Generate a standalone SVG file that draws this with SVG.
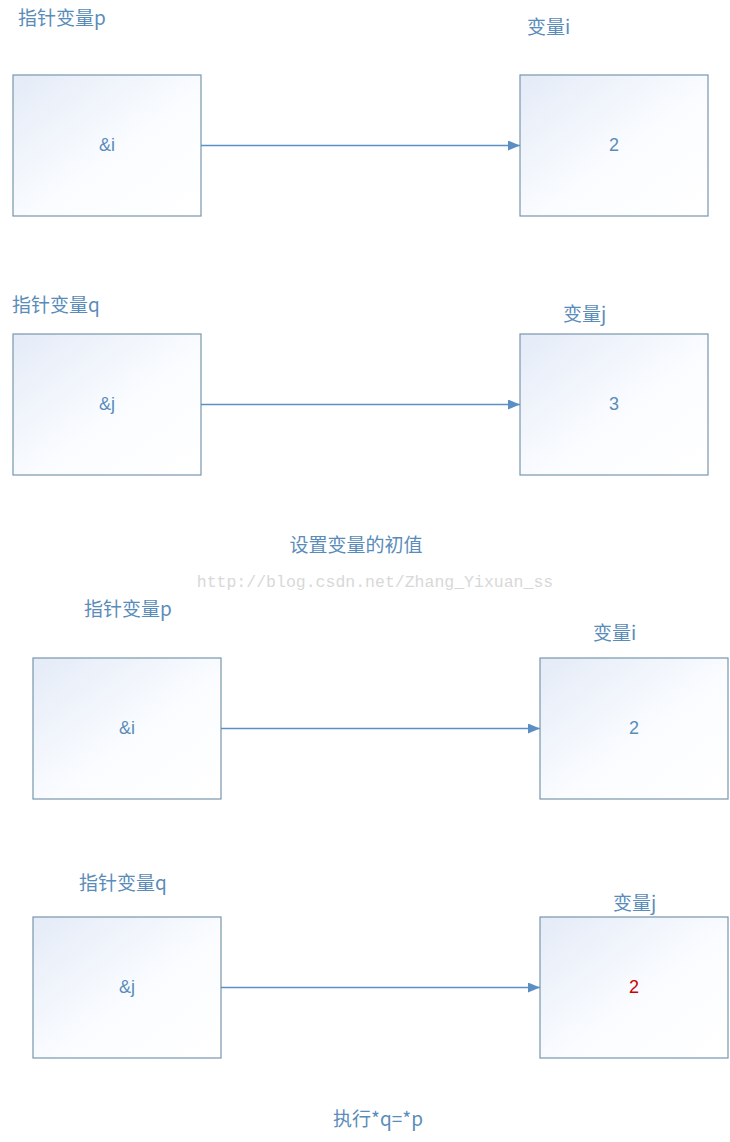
<svg xmlns="http://www.w3.org/2000/svg" width="730" height="1142" viewBox="0 0 730 1142">
<defs>
<linearGradient id="g" x1="0" y1="0" x2="1" y2="1">
<stop offset="0" stop-color="#e4ebf7"/>
<stop offset="0.55" stop-color="#fafcff"/>
<stop offset="1" stop-color="#ffffff"/>
</linearGradient>
<marker id="ah" markerWidth="12" markerHeight="10" refX="12" refY="5" orient="auto" markerUnits="userSpaceOnUse">
<path d="M0,0 L12,5 L0,10 Z" fill="#5b8fc4"/>
</marker>
<style>
.box{fill:url(#g);stroke:#7896ac;stroke-width:1.2}
.t{font-family:"Microsoft YaHei","Noto Sans CJK SC","Liberation Sans",sans-serif;font-size:19px;fill:#5a8cba}
.v{font-family:"Liberation Sans","Noto Sans CJK SC",sans-serif;font-size:18px;fill:#5a8cba;text-anchor:middle}
.c{stroke:#5b8fc4;stroke-width:1.5;fill:none}
.wm{font-family:"Liberation Mono",monospace;font-size:16.5px;fill:#d8d8d8}
</style>
</defs>
<rect width="730" height="1142" fill="#ffffff"/>
<g id="labels">
<text class="t" x="18" y="25">指针变量p</text>
<text class="t" x="527" y="34">变量i</text>
<text class="t" x="12" y="312">指针变量q</text>
<text class="t" x="563" y="321">变量j</text>
<text class="t" x="356" y="552" text-anchor="middle">设置变量的初值</text>
<text class="wm" x="375" y="587" text-anchor="middle">http://blog.csdn.net/Zhang_Yixuan_ss</text>
<text class="t" x="84" y="616">指针变量p</text>
<text class="t" x="593" y="640">变量i</text>
<text class="t" x="79" y="890">指针变量q</text>
<text class="t" x="613" y="910">变量j</text>
<text class="t" x="378" y="1126" text-anchor="middle">执行*q=*p</text>
</g>
<g id="p1"><rect class="box" x="13" y="75" width="188" height="141"/><text class="v" x="107" y="151">&amp;i</text></g>
<g id="i1"><rect class="box" x="520" y="75" width="188" height="141"/><text class="v" x="614" y="151">2</text></g>
<g id="q1"><rect class="box" x="13" y="334" width="188" height="141"/><text class="v" x="107" y="410">&amp;j</text></g>
<g id="j1"><rect class="box" x="520" y="334" width="188" height="141"/><text class="v" x="614" y="410">3</text></g>
<g id="p2"><rect class="box" x="33" y="658" width="188" height="141"/><text class="v" x="127" y="734">&amp;i</text></g>
<g id="i2"><rect class="box" x="540" y="658" width="188" height="141"/><text class="v" x="634" y="734">2</text></g>
<g id="q2"><rect class="box" x="33" y="917" width="188" height="141"/><text class="v" x="127" y="993">&amp;j</text></g>
<g id="j2"><rect class="box" x="540" y="917" width="188" height="141"/><text class="v" x="634" y="993" style="fill:#cc0000">2</text></g>
<g id="connectors">
<line class="c" x1="201" y1="145.5" x2="520" y2="145.5" marker-end="url(#ah)"/>
<line class="c" x1="201" y1="404.5" x2="520" y2="404.5" marker-end="url(#ah)"/>
<line class="c" x1="221" y1="728.5" x2="540" y2="728.5" marker-end="url(#ah)"/>
<line class="c" x1="221" y1="987.5" x2="540" y2="987.5" marker-end="url(#ah)"/>
</g>
</svg>
